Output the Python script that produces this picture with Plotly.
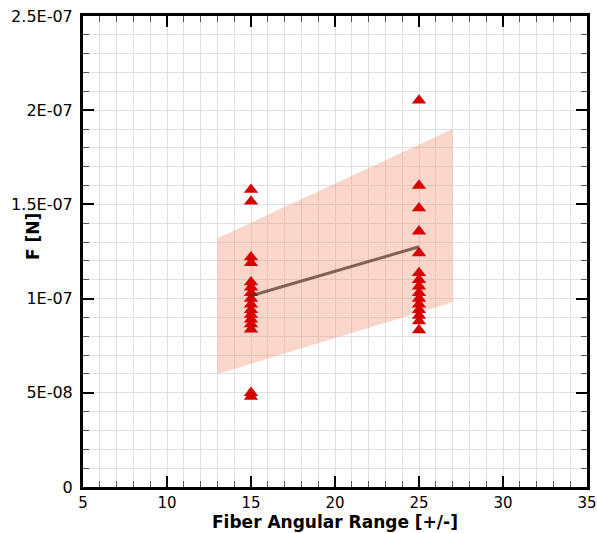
import plotly.graph_objects as go

# Data (values in newtons)
x_group_a = 15
f_group_a = [1.578e-7, 1.516e-7, 1.22e-7, 1.19e-7, 1.087e-7, 1.06e-7, 1.03e-7, 1.0e-7,
             0.97e-7, 0.94e-7, 0.915e-7, 0.89e-7, 0.865e-7, 0.837e-7, 0.50e-7, 0.48e-7]
x_group_b = 25
f_group_b = [2.052e-7, 1.60e-7, 1.48e-7, 1.357e-7, 1.242e-7, 1.136e-7, 1.10e-7, 1.065e-7,
             1.03e-7, 1.0e-7, 0.97e-7, 0.94e-7, 0.91e-7, 0.88e-7, 0.833e-7]

fit_x = [15, 25]
fit_y = [1.015e-7, 1.275e-7]

band_x = [13, 27, 27, 13, 13]
band_y = [1.32e-7, 1.90e-7, 0.98e-7, 0.60e-7, 1.32e-7]

y_tickvals = [0, 5e-8, 1e-7, 1.5e-7, 2e-7, 2.5e-7]
y_ticktext = ["0", "5E-08", "1E-07", "1.5E-07", "2E-07", "2.5E-07"]
x_tickvals = [5, 10, 15, 20, 25, 30, 35]

fig = go.Figure()
fig.add_trace(go.Scatter(x=band_x, y=band_y, mode="lines", fill="toself",
                         fillcolor="rgba(243,145,112,0.38)", line=dict(width=0),
                         hoverinfo="skip", showlegend=False))
fig.add_trace(go.Scatter(x=[x_group_a] * len(f_group_a) + [x_group_b] * len(f_group_b),
                         y=f_group_a + f_group_b, mode="markers",
                         marker=dict(symbol="triangle-up", size=12.5, color="#d60000",
                                     line=dict(width=0)),
                         showlegend=False))
fig.add_trace(go.Scatter(x=fit_x, y=fit_y, mode="lines",
                         line=dict(color="rgba(85,45,35,0.7)", width=3),
                         showlegend=False))

tickfont = dict(family="DejaVu Sans, sans-serif", size=16, color="black")
xtickfont = dict(family="DejaVu Sans, sans-serif", size=15, color="black")
fig.update_xaxes(range=[5, 35], tickvals=x_tickvals, ticks="inside", ticklen=11, tickwidth=2,
                 tickcolor="black", showline=True, linecolor="black", linewidth=3,
                 mirror="allticks", showgrid=True, gridcolor="#e0e0e0", gridwidth=1,
                 zeroline=False, tickfont=xtickfont, automargin=False,
                 ticklabeloverflow="allow",
                 minor=dict(dtick=1, ticks="inside", ticklen=6, tickwidth=1,
                            tickcolor="#555555", showgrid=True, gridcolor="#e0e0e0",
                            gridwidth=1))
fig.update_yaxes(range=[0, 2.5e-7], tickvals=y_tickvals, ticktext=y_ticktext,
                 ticks="inside", ticklen=11, tickwidth=2, tickcolor="black",
                 showline=True, linecolor="black", linewidth=3, mirror="allticks",
                 showgrid=True, gridcolor="#e0e0e0", gridwidth=1, zeroline=False,
                 tickfont=tickfont, automargin=False, ticklabelstandoff=4,
                 ticklabeloverflow="allow",
                 minor=dict(dtick=1e-8, ticks="inside", ticklen=6, tickwidth=1,
                            tickcolor="#555555", showgrid=True, gridcolor="#e0e0e0",
                            gridwidth=1))

titlefont = dict(family="DejaVu Sans, sans-serif", size=17, color="black",
                 weight="bold")
fig.add_annotation(text="<b>Fiber Angular Range [+/-]</b>", xref="paper", yref="paper",
                   x=0.5, y=-0.0735, xanchor="center", yanchor="middle", showarrow=False,
                   font=titlefont)
fig.add_annotation(text="<b>F [N]</b>", xref="paper", yref="paper", x=-0.099, y=0.531,
                   xanchor="center", yanchor="middle", textangle=-90, showarrow=False,
                   font=titlefont)

fig.update_layout(width=597, height=533, margin=dict(l=83, r=10, t=16, b=46),
                  plot_bgcolor="white", paper_bgcolor="white")
fig.write_html("out.html", config={"responsive": False})
